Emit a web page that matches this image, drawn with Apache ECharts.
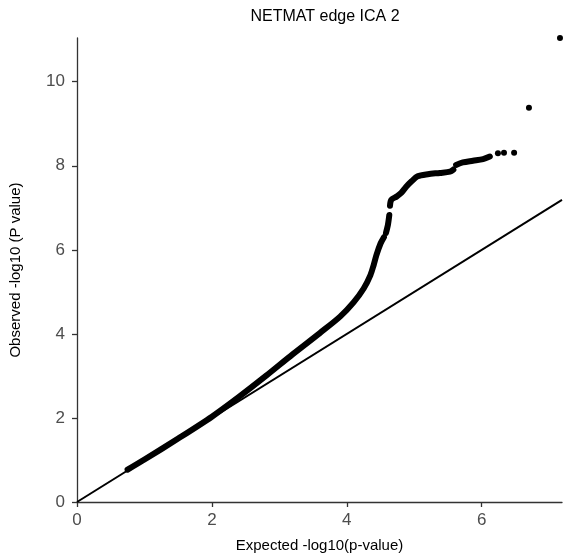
<!DOCTYPE html>
<html>
<head>
<meta charset="utf-8">
<script src="https://cdn.jsdelivr.net/npm/echarts@6/dist/echarts.min.js"></script>
<style>
  html,body{margin:0;padding:0;background:#fff;}
  #chart{width:569px;height:558px;}
</style>
</head>
<body>
<div id="chart"></div>
<script>
// expected vs observed -log10(p)
// dense part of the cloud, split where the points leave small gaps
var denseLow = [
    [0.75,0.77],[1.0,1.01],[1.5,1.51],[2.0,2.03],[2.4,2.5],[2.8,3.0],
    [3.2,3.52],[3.6,4.02],[3.9,4.41],[4.1,4.75],[4.25,5.08],[4.35,5.4],
    [4.4,5.65],[4.44,5.88],[4.5,6.15],[4.55,6.3]
];
var denseMid = [
    [4.58,6.4],[4.61,6.6],[4.63,6.83]
];
var denseHigh = [
    [4.64,7.05],[4.66,7.19],[4.74,7.27],[4.81,7.36],[4.88,7.5],[4.96,7.63],
    [5.05,7.75],[5.2,7.8],[5.38,7.83],[5.53,7.86],[5.58,7.91]
];
var denseTop = [
    [5.62,8.02],[5.72,8.08],[5.87,8.12],[6.02,8.16],[6.12,8.22]
];
// separate dots at the tail
var tailDots = [
    [6.24,8.3],[6.33,8.31],[6.48,8.31],[6.7,9.38],[7.16,11.04]
];
// y = x reference
var refLine = [[0,0],[7.19,7.19]];

var xTicks = [0,2,4,6];
var yTicks = [0,2,4,6,8,10];

var sFont = "Liberation Sans, Arial, sans-serif";
var oChart = echarts.init(document.getElementById("chart"));

function bandSeries(aData){
    return {
        type:"line",
        data:aData,
        symbol:"none",
        smooth:0.3,
        silent:true,
        z:3,
        lineStyle:{color:"#000",width:6,cap:"round",join:"round"}
    };
}

var option = {
    animation:false,
    title:{
        text:"NETMAT edge ICA 2",
        left:320,
        textAlign:"center",
        top:4,
        textStyle:{fontFamily:sFont,fontSize:16,fontWeight:"normal",color:"#000"}
    },
    grid:{left:77,right:7,top:38,bottom:56},
    xAxis:{
        type:"value",
        min:0,
        max:7.19,
        name:"Expected -log10(p-value)",
        nameLocation:"middle",
        nameGap:36,
        nameTextStyle:{fontFamily:sFont,fontSize:15,color:"#000"},
        splitLine:{show:false},
        axisLine:{lineStyle:{color:"#333",width:1.3}},
        axisTick:{customValues:xTicks,length:5,lineStyle:{color:"#333",width:1.3}},
        axisLabel:{customValues:xTicks,margin:10,fontFamily:sFont,fontSize:17,color:"#4d4d4d"}
    },
    yAxis:{
        type:"value",
        min:0,
        max:11.04,
        name:"Observed -log10 (P value)",
        nameLocation:"middle",
        nameGap:54,
        nameTextStyle:{fontFamily:sFont,fontSize:15,color:"#000"},
        splitLine:{show:false},
        axisLine:{lineStyle:{color:"#333",width:1.3}},
        axisTick:{customValues:yTicks,length:5,lineStyle:{color:"#333",width:1.3}},
        axisLabel:{customValues:yTicks,margin:12,fontFamily:sFont,fontSize:17,color:"#4d4d4d"}
    },
    series:[
        {
            type:"line",
            data:refLine,
            symbol:"none",
            silent:true,
            z:2,
            lineStyle:{color:"#000",width:2}
        },
        bandSeries(denseLow),
        bandSeries(denseMid),
        bandSeries(denseHigh),
        bandSeries(denseTop),
        {
            type:"scatter",
            data:tailDots,
            symbol:"circle",
            symbolSize:6,
            clip:true,
            z:3,
            itemStyle:{color:"#000",opacity:1}
        }
    ]
};
oChart.setOption(option);
</script>
</body>
</html>
